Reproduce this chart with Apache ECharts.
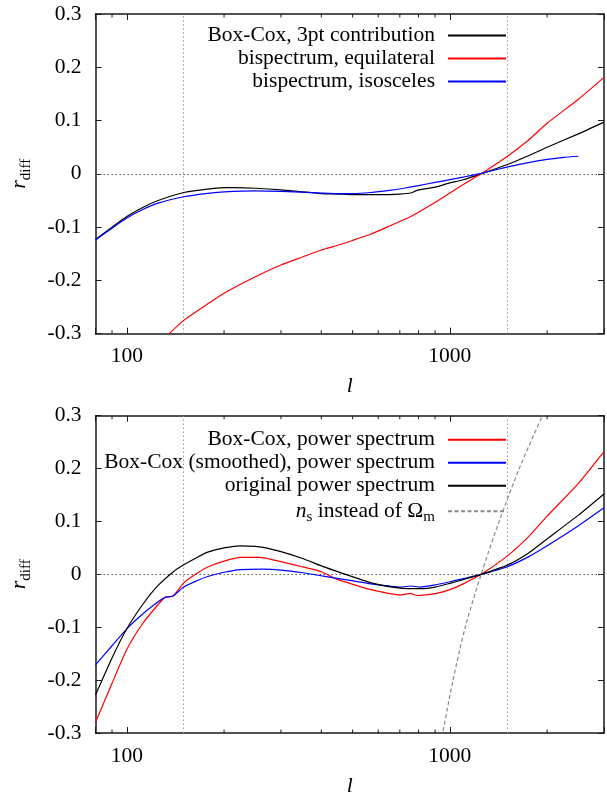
<!DOCTYPE html>
<html><head><meta charset="utf-8">
<script src="https://cdn.jsdelivr.net/npm/echarts@6/dist/echarts.min.js"></script>
<style>html,body{margin:0;padding:0;background:#fff}#c{width:607px;height:798px}</style>
</head><body><div id="c"></div>
<script>
// ---------- axis data ----------
const xRange = [80, 3000];
const yRange = [-0.3, 0.3];
const xTickLabels = [100, 1000];
const minorTicks = [90, 200, 300, 400, 500, 600, 700, 800, 900, 2000];
const guideL = [150, 1500];
const zeroLine = 0;

// ---------- top panel ----------
const topNames = ['Box-Cox, 3pt contribution', 'bispectrum, equilateral', 'bispectrum, isosceles'];
const l3pt = [80, 90, 100, 112, 125, 150, 175, 200, 215, 250, 300, 350, 400, 450, 500, 600, 700, 757, 790, 900, 1000, 1100, 1250, 1500, 1750, 2000, 2500, 3000];
const r3pt = [-0.123, -0.100, -0.080, -0.063, -0.050, -0.035, -0.029, -0.026, -0.026, -0.027, -0.030, -0.034, -0.037, -0.038, -0.039, -0.039, -0.038, -0.036, -0.031, -0.025, -0.017, -0.011, 0.000, 0.017, 0.034, 0.050, 0.075, 0.097];
const lEqui = [132, 150, 175, 200, 250, 300, 350, 400, 450, 500, 570, 650, 757, 870, 1000, 1100, 1250, 1500, 1750, 2000, 2500, 3000];
const rEqui = [-0.306, -0.275, -0.247, -0.224, -0.193, -0.171, -0.156, -0.143, -0.134, -0.125, -0.113, -0.098, -0.080, -0.059, -0.036, -0.020, 0.000, 0.032, 0.063, 0.095, 0.140, 0.181];
const lIso = [80, 90, 100, 112, 125, 150, 175, 200, 250, 300, 400, 450, 500, 570, 650, 720, 800, 900, 1000, 1100, 1250, 1500, 1750, 2000, 2250, 2500];
const rIso = [-0.124, -0.102, -0.083, -0.067, -0.055, -0.043, -0.037, -0.034, -0.032, -0.033, -0.036, -0.037, -0.037, -0.035, -0.031, -0.027, -0.022, -0.016, -0.011, -0.006, 0.001, 0.0125, 0.021, 0.027, 0.031, 0.033];

// ---------- bottom panel ----------
const nsName = 'n_s instead of Omega_m';
const botNames = ['Box-Cox, power spectrum', 'Box-Cox (smoothed), power spectrum', 'original power spectrum', nsName];
const lBC = [80, 90, 100, 112, 125, 131, 139, 150, 165, 178, 200, 225, 258, 300, 350, 400, 450, 485, 570, 705, 756, 790, 909, 1000, 1100, 1250, 1500, 1750, 2000, 2500, 3000];
const rBC = [-0.280, -0.206, -0.142, -0.093, -0.057, -0.044, -0.041, -0.016, 0.002, 0.014, 0.025, 0.032, 0.032, 0.024, 0.014, 0.005, -0.010, -0.016, -0.029, -0.039, -0.036, -0.040, -0.036, -0.029, -0.018, 0.000, 0.034, 0.071, 0.110, 0.172, 0.232];
const lSm = [80, 90, 100, 112, 125, 131, 139, 150, 165, 178, 200, 225, 264, 300, 350, 402, 485, 571, 705, 756, 810, 900, 1000, 1100, 1250, 1500, 1750, 2000, 2500, 3000];
const rSm = [-0.171, -0.135, -0.103, -0.075, -0.052, -0.044, -0.041, -0.024, -0.012, -0.004, 0.004, 0.009, 0.010, 0.008, 0.003, -0.003, -0.011, -0.018, -0.024, -0.022, -0.024, -0.020, -0.014, -0.008, 0.000, 0.014, 0.033, 0.054, 0.092, 0.126];
const lOrig = [80, 90, 100, 112, 125, 140, 150, 165, 178, 200, 225, 250, 264, 300, 350, 400, 470, 570, 700, 810, 900, 1000, 1100, 1250, 1500, 1750, 2000, 2500, 3000];
const rOrig = [-0.228, -0.158, -0.103, -0.057, -0.021, 0.006, 0.018, 0.032, 0.042, 0.050, 0.054, 0.053, 0.051, 0.043, 0.030, 0.016, 0.001, -0.016, -0.026, -0.027, -0.024, -0.017, -0.010, 0.000, 0.017, 0.040, 0.067, 0.112, 0.152];
const lNs = [936, 950, 1023, 1116, 1250, 1421, 1640, 1933, 2002];
const rNs = [-0.32, -0.3, -0.2, -0.1, 0.0, 0.1, 0.2, 0.3, 0.32];

// ---------- build ----------
const FONT = 'Liberation Serif';
const FS = 21.5;
const zip = (a, b) => a.map((v, i) => [v, b[i]]);
const grids = [
  {left: 92.7, top: 14, right: -3.6, height: 319.7},
  {left: 92.7, top: 415.7, right: -3.6, height: 320}
];
const AX = '#1a1a1a';

const xAxes = [], yAxes = [];
grids.forEach((g, gi) => {
  xAxes.push({
    type: 'log', logBase: 10, gridIndex: gi, min: xRange[0], max: xRange[1], position: 'bottom',
    axisLine: {show: true, onZero: false, lineStyle: {color: AX, width: 1.5}},
    axisTick: {show: true, inside: true, length: 6, lineStyle: {color: AX, width: 1}},
    axisLabel: {show: true, margin: 12, fontFamily: FONT, fontSize: FS, color: '#000',
      formatter: v => { const r = Math.round(v); return xTickLabels.indexOf(r) >= 0 ? String(r) : ''; }},
    splitLine: {show: false},
    name: 'l', nameLocation: 'middle', nameGap: 42,
    nameTextStyle: {fontFamily: FONT, fontSize: FS, fontStyle: 'italic', color: '#000'}
  });
  xAxes.push({
    type: 'log', logBase: 10, gridIndex: gi, min: xRange[0], max: xRange[1], position: 'top',
    axisLine: {show: true, onZero: false, lineStyle: {color: AX, width: 1.5}},
    axisTick: {show: true, inside: true, length: 6, lineStyle: {color: AX, width: 1}},
    axisLabel: {show: false}, splitLine: {show: false}
  });
  yAxes.push({
    type: 'value', gridIndex: gi, min: yRange[0], max: yRange[1], interval: 0.1, position: 'left',
    axisLine: {show: true, onZero: false, lineStyle: {color: AX, width: 1.5}},
    axisTick: {show: true, inside: true, length: 6, lineStyle: {color: AX, width: 1}},
    axisLabel: {margin: 14, fontFamily: FONT, fontSize: FS, color: '#000',
      formatter: v => String(Math.round(v * 10) / 10)},
    splitLine: {show: false},
    name: '{it|r}{sub|diff}', nameLocation: 'middle', nameGap: 62, nameRotate: 90,
    nameTextStyle: {fontFamily: FONT, fontSize: FS, color: '#000',
      rich: {it: {fontFamily: FONT, fontSize: 22, fontStyle: 'italic', color: '#000'},
             sub: {fontFamily: FONT, fontSize: 15, color: '#000', padding: [14, 0, 0, 0]}}}
  });
  yAxes.push({
    type: 'value', gridIndex: gi, min: yRange[0], max: yRange[1], interval: 0.1, position: 'right',
    axisLine: {show: true, onZero: false, lineStyle: {color: AX, width: 1.5}},
    axisTick: {show: true, inside: true, length: 6, lineStyle: {color: AX, width: 1}},
    axisLabel: {show: false}, splitLine: {show: false}
  });
});

function lineSeries(name, ls, rs, color, gi, extra) {
  return Object.assign({
    type: 'line', name: name, data: zip(ls, rs), xAxisIndex: gi * 2, yAxisIndex: gi * 2,
    symbol: 'none', smooth: 0.2, silent: true, clip: true, animation: false,
    lineStyle: {color: color, width: 1.2}, itemStyle: {color: color}
  }, extra || {});
}
function guides() {
  const d = [{yAxis: zeroLine, lineStyle: {color: '#555', type: [1.5, 2.5], width: 1}}];
  guideL.forEach(v => d.push({xAxis: v, lineStyle: {color: '#999', type: [1.5, 2.5], width: 1}}));
  return {silent: true, symbol: 'none', label: {show: false}, animation: false, z: 1, data: d};
}
function tickSeries(gi) {
  return {
    type: 'custom', xAxisIndex: gi * 2, yAxisIndex: gi * 2, silent: true, animation: false,
    data: minorTicks.map(v => [v, 0]),
    renderItem: (p, api) => {
      const b = api.coord([api.value(0), yRange[0]]);
      const t = api.coord([api.value(0), yRange[1]]);
      const st = {stroke: AX, lineWidth: 1};
      return {type: 'group', children: [
        {type: 'line', shape: {x1: b[0], y1: b[1], x2: b[0], y2: b[1] - 3.5}, style: st},
        {type: 'line', shape: {x1: t[0], y1: t[1], x2: t[0], y2: t[1] + 3.5}, style: st}
      ]};
    }
  };
}

const series = [
  tickSeries(0),
  lineSeries(topNames[0], l3pt, r3pt, '#000000', 0, {markLine: guides()}),
  lineSeries(topNames[1], lEqui, rEqui, '#ff0000', 0),
  lineSeries(topNames[2], lIso, rIso, '#0000ff', 0),
  tickSeries(1),
  lineSeries(botNames[0], lBC, rBC, '#ff0000', 1, {markLine: guides()}),
  lineSeries(botNames[1], lSm, rSm, '#0000ff', 1),
  lineSeries(botNames[2], lOrig, rOrig, '#000000', 1),
  lineSeries(nsName, lNs, rNs, '#8a8a8a', 1, {lineStyle: {color: '#8a8a8a', width: 1.2, type: [4, 2.5]}, smooth: 0.3})
];

const legendCommon = {
  orient: 'vertical', align: 'right', right: 100, padding: 0,
  itemWidth: 58, itemHeight: 14, itemGap: 1, selectedMode: false,
  itemStyle: {opacity: 0},
  textStyle: {fontFamily: FONT, fontSize: FS, color: '#000', lineHeight: 21, padding: [0, 8, 0, 0],
    rich: {it: {fontFamily: FONT, fontSize: FS, fontStyle: 'italic', color: '#000', lineHeight: 21},
           sub: {fontFamily: FONT, fontSize: 15, color: '#000', lineHeight: 21, padding: [12, 0, 0, 0]}}},
  formatter: name => name === nsName ? '{it|n}{sub|s} instead of \u03A9{sub|m}' : name
};

const chart = echarts.init(document.getElementById('c'), null, {renderer: 'canvas'});
chart.setOption({
  animation: false,
  backgroundColor: '#fff',
  grid: grids,
  xAxis: xAxes,
  yAxis: yAxes,
  legend: [
    Object.assign({}, legendCommon, {data: topNames, top: 24.5}),
    Object.assign({}, legendCommon, {data: botNames, top: 428.8})
  ],
  series: series
});
</script></body></html>
